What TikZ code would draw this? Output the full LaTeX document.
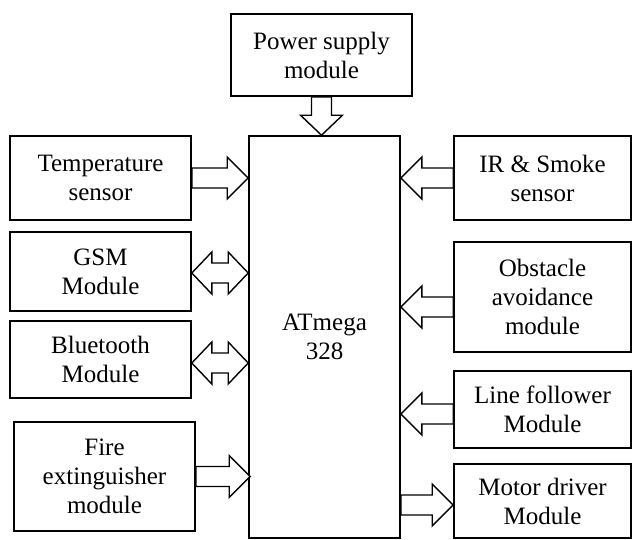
\documentclass[tikz,border=0pt]{standalone}
\usepackage{fontspec}
\setmainfont{Liberation Serif}
\usetikzlibrary{calc}
\tikzset{
  box/.style={draw, line width=1.6, align=center, inner sep=0pt,
    font=\fontsize{25}{29}\selectfont},
  blk/.style={draw, fill=white, line width=1.4, line join=miter}
}
% horizontal block arrow: #1 tail, #2 tip, #3 = 1 (right) or -1 (left)
\newcommand\harrow[3]{%
  \draw[blk] ($(#1)+(0,-10)$) -- ($(#2)+({-21*#3},-10)$) -- ($(#2)+({-21*#3},-21)$)
    -- (#2) -- ($(#2)+({-21*#3},21)$) -- ($(#2)+({-21*#3},10)$) -- ($(#1)+(0,10)$) -- cycle;}
% double block arrow: #1 left tip, #2 right tip
\newcommand\darrow[2]{%
  \draw[blk] (#1) -- ($(#1)+(20,-21)$) -- ($(#1)+(20,-10)$) -- ($(#2)+(-20,-10)$)
    -- ($(#2)+(-20,-21)$) -- (#2) -- ($(#2)+(-20,21)$) -- ($(#2)+(-20,10)$)
    -- ($(#1)+(20,10)$) -- ($(#1)+(20,21)$) -- cycle;}
\begin{document}
\begin{tikzpicture}[x=1pt,y=-1pt]
\useasboundingbox (0,0) rectangle (632,539);
\node[box, minimum width=181, minimum height=82] (power) at (321.5,55) {Power supply\\module};
\node[box, minimum width=151, minimum height=402] (mcu) at (324.5,337) {ATmega\\328};
\node[box, minimum width=181, minimum height=84] (temp) at (100.5,178) {Temperature\\sensor};
\node[box, minimum width=181, minimum height=79] (gsm) at (100.5,271.5) {GSM\\Module};
\node[box, minimum width=181, minimum height=77] (bt) at (100.5,359.5) {Bluetooth\\Module};
\node[box, minimum width=181, minimum height=109] (fire) at (104.5,476.5) {Fire\\extinguisher\\module};
\node[box, minimum width=177, minimum height=84] (ir) at (542.5,178) {IR \& Smoke\\sensor};
\node[box, minimum width=177, minimum height=110] (obst) at (542.5,297) {Obstacle\\avoidance\\module};
\node[box, minimum width=177, minimum height=77] (line) at (542.5,409.5) {Line follower\\Module};
\node[box, minimum width=177, minimum height=74] (motor) at (542.5,501) {Motor driver\\Module};

% power arrow (vertical)
\coordinate (pt) at (power.south);
\coordinate (pb) at (power.south |- mcu.north);
\draw[blk] ($(pt)+(-10,0)$) -- ($(pb)+(-10,-20)$) -- ($(pb)+(-21,-20)$) -- (pb)
  -- ($(pb)+(21,-20)$) -- ($(pb)+(10,-20)$) -- ($(pt)+(10,0)$) -- cycle;

\coordinate (t1) at (temp.east);
\coordinate (t2) at (mcu.west |- temp.east);
\harrow{t1}{t2}{1}

\coordinate (i1) at (ir.west);
\coordinate (i2) at (mcu.east |- ir.west);
\harrow{i1}{i2}{-1}

\coordinate (g1) at ([yshift=-1.5pt]gsm.east);
\coordinate (g2) at (mcu.west |- g1);
\darrow{g1}{g2}

\coordinate (b1) at ([yshift=-3.5pt]bt.east);
\coordinate (b2) at (mcu.west |- b1);
\darrow{b1}{b2}

\coordinate (f1) at (fire.east);
\coordinate (f2) at ([xshift=2pt]mcu.west |- fire.east);
\harrow{f1}{f2}{1}

\coordinate (o1) at ([yshift=-10pt]obst.west);
\coordinate (o2) at (mcu.east |- o1);
\harrow{o1}{o2}{-1}

\coordinate (l1) at ([yshift=-4.5pt]line.west);
\coordinate (l2) at (mcu.east |- l1);
\harrow{l1}{l2}{-1}

\coordinate (m2) at ([yshift=-4pt]motor.west);
\coordinate (m1) at (mcu.east |- m2);
\harrow{m1}{m2}{1}
\end{tikzpicture}
\end{document}
